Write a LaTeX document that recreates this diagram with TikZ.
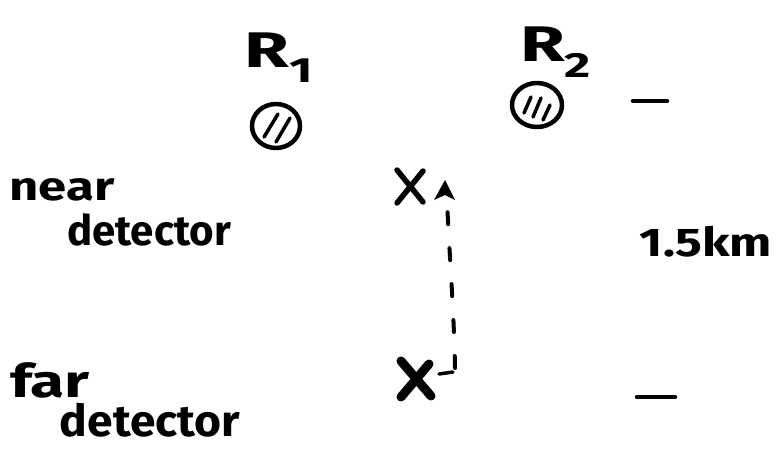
\documentclass[tikz,border=0pt]{standalone}
\usepackage{fontspec}
\setmainfont{Fira Sans}
\usetikzlibrary{shapes.geometric,calc}
\begin{document}
\begin{tikzpicture}[x=1pt,y=-1pt,
  ink/.style={line width=4.5pt,line cap=round,line join=round},
  hatch/.style={line width=3.5pt,line cap=round},
  hand/.style={inner sep=0pt,font=\bfseries\fontsize{#1}{#1}\selectfont},
  xmark/.style={line width=5.5pt,line cap=round}]
\useasboundingbox (0,0) rectangle (774,451);
% reactors
\node[hand=50,xscale=1.45] (r1lbl) at (279,58) {R\textsubscript{1}};
\node[draw,ink,ellipse,minimum width=48pt,minimum height=44pt,inner sep=0pt] (r1) at (276,126) {};
\draw[hatch] (264,137) -- (278,114);
\draw[hatch] (276,142) -- (290,118);
\node[hand=50,xscale=1.45] (r2lbl) at (556,52) {R\textsubscript{2}};
\node[draw,ink,ellipse,minimum width=50pt,minimum height=44pt,inner sep=0pt] (r2) at (537,105) {};
\draw[hatch] (524,113) -- (531,97);
\draw[hatch] (533,117) -- (541,98);
\draw[hatch] (543,120) -- (550,105);
% right scale marks
\coordinate (t1) at (633,101); \coordinate (t2) at (667,101);
\draw[ink] (t1) -- (t2);
\coordinate (b1) at (637,397); \coordinate (b2) at (675,397);
\draw[ink] (b1) -- (b2);
\node[hand=40,xscale=1.25] (dist) at (706,242) {1.5km};
% labels
\node[hand=40,xscale=1.27] (near) at (62,190) {near};
\node[hand=42] (neardet) at (149,230) {detector};
\node[hand=46,xscale=1.35] (far) at (50,380) {far};
\node[hand=44,xscale=1.05] (fardet) at (150,420) {detector};
% detectors
\coordinate (nx) at (410,186);
\draw[xmark] ($(nx)+(-13,-16)$) -- ($(nx)+(13,16)$);
\draw[xmark] ($(nx)+(13,-15)$) -- ($(nx)+(-13,17)$);
\coordinate (fx) at (416,379);
\draw[line width=9pt,line cap=round] ($(fx)+(-15,-18)$) -- ($(fx)+(15,17)$);
\draw[line width=9pt,line cap=round] ($(fx)+(13,-15)$) -- ($(fx)+(-15,18)$);
% arrow
\coordinate (as) at (455,368);
\coordinate (ae) at (447,200);
\draw[line width=4pt,dash pattern=on 12pt off 24pt,line cap=round] (as) .. controls (454,310) and (449,250) .. (ae);
\coordinate (tip) at (445,180);
\fill (tip) -- ++(-11,20) -- ++(11,-5) -- ++(10,5) -- cycle;
\coordinate (tk1) at (439,374); \coordinate (tk2) at (453,372);
\draw[line width=3.5pt,line cap=round] (tk1) -- (tk2);
\end{tikzpicture}
\end{document}
